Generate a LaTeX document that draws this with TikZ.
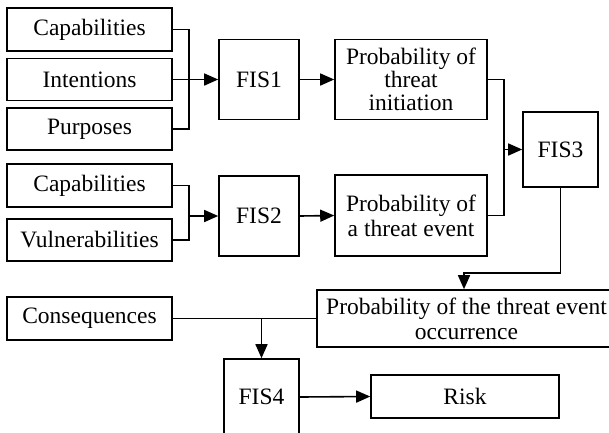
\documentclass[tikz,border=0pt]{standalone}
\usepackage{fontspec}
\setmainfont{Liberation Serif}
\usetikzlibrary{arrows.meta}
\begin{document}
\begin{tikzpicture}[x=1pt,y=-1pt,
  box/.style={draw,line width=1.6pt,inner sep=0pt,align=center,font=\fontsize{23.5}{23}\selectfont},
  conn/.style={line width=1.6pt},
  arr/.style={conn,-{Triangle[length=14pt,width=12pt]}}]
\useasboundingbox (0,0) rectangle (609,432);
\clip (0,0) rectangle (609,432);
\node[box,minimum width=165pt,minimum height=43pt] (cap1) at (89.5,29.5) {Capabilities};
\node[box,minimum width=165pt,minimum height=42pt] (int) at (89.5,79.5) {Intentions};
\node[box,minimum width=165pt,minimum height=42pt] (pur) at (89.5,129) {Purposes};
\node[box,minimum width=165pt,minimum height=43pt] (cap2) at (89.5,185.5) {Capabilities};
\node[box,minimum width=165pt,minimum height=42pt] (vul) at (89.5,240) {Vulnerabilities};
\node[box,minimum width=80pt,minimum height=80pt] (fis1) at (259,79.5) {FIS1};
\node[box,minimum width=80pt,minimum height=80pt] (fis2) at (259,216) {FIS2};
\node[box,minimum width=152pt,minimum height=80pt] (pti) at (411,79.5) {Probability of\\threat\\initiation};
\node[box,minimum width=152pt,minimum height=81pt] (pte) at (411,215.5) {Probability of\\[2pt]a threat event};
\node[box,minimum width=75pt,minimum height=75pt] (fis3) at (560.5,149.5) {FIS3};
\node[box,minimum width=299pt,minimum height=57pt] (pto) at (466.5,318.5) {Probability of the threat event\\[2pt]occurrence};
\node[box,minimum width=165pt,minimum height=43pt] (con) at (89.5,318.5) {Consequences};
\node[box,minimum width=75pt,minimum height=76pt] (fis4) at (261.5,397) {FIS4};
\node[box,minimum width=188pt,minimum height=43pt] (risk) at (465,396.5) {Risk};
\coordinate (m1) at (189,79.5);
\coordinate (m2) at (189,216);
\coordinate (m3) at (504,149.5);
\coordinate (m4) at (464,273);
\draw[conn] (cap1.east) -| (m1) |- (pur.east);
\draw[arr] (int.east) -- (fis1.west);
\draw[conn] (cap2.east) -| (m2) |- (vul.east);
\draw[arr] (m2) -- (fis2.west);
\draw[arr] (fis1.east) -- (pti.west);
\draw[arr] (fis2.east) -- (pte.west);
\draw[conn] (pti.east) -| (m3) |- (pte.east);
\draw[arr] (m3) -- (fis3.west);
\draw[arr] (fis3.south) |- (m4) -- (m4 |- pto.north);
\draw[conn] (con.east) -- (pto.west);
\draw[arr] (fis4.north |- con.east) -- (fis4.north);
\draw[arr] (fis4.east) -- (risk.west);
\end{tikzpicture}
\end{document}
